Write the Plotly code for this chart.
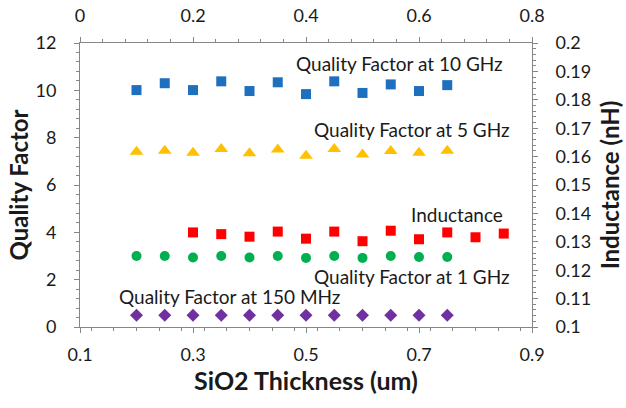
import plotly.graph_objects as go

# SiO2 thickness (um) for the quality-factor series (bottom axis)
thickness = [0.2, 0.25, 0.3, 0.35, 0.4, 0.45, 0.5, 0.55, 0.6, 0.65, 0.7, 0.75]
# Thickness values for the inductance series (top axis)
thickness_top = [0.2, 0.25, 0.3, 0.35, 0.4, 0.45, 0.5, 0.55, 0.6, 0.65, 0.7, 0.75]

q_10ghz = [10.01, 10.3, 10.01, 10.38, 9.97, 10.34, 9.84, 10.38, 9.89, 10.25, 9.97, 10.22]
q_5ghz = [7.41, 7.45, 7.36, 7.52, 7.34, 7.5, 7.24, 7.52, 7.29, 7.44, 7.36, 7.45]
q_1ghz = [3.0, 3.0, 2.94, 3.0, 2.94, 3.0, 2.92, 3.0, 2.92, 3.0, 2.96, 2.96]
q_150mhz = [0.5, 0.5, 0.5, 0.5, 0.5, 0.5, 0.5, 0.5, 0.5, 0.5, 0.5, 0.5]
inductance = [0.1333, 0.1327, 0.1318, 0.1336, 0.1311, 0.1336, 0.1302, 0.1339,
              0.1309, 0.1333, 0.1316, 0.1329]

FONT = "Lato"
TXT = "#1a1a1a"
AX = "#868686"

fig = go.Figure()

def qf(y, color, symbol, size):
    fig.add_trace(go.Scatter(x=thickness, y=y, mode="markers",
                             marker=dict(color=color, symbol=symbol, size=size,
                                         line=dict(width=0)),
                             showlegend=False))

qf(q_10ghz, "#1F6FBF", "square", 10)
qf(q_5ghz, "#FFC000", "triangle-up", 12)
qf(q_1ghz, "#00B050", "circle", 10)
qf(q_150mhz, "#7030A0", "diamond", 10)

fig.add_trace(go.Scatter(x=thickness_top, y=inductance, mode="markers",
                         xaxis="x2", yaxis="y2",
                         marker=dict(color="#FF0000", symbol="square", size=10,
                                     line=dict(width=0)),
                         showlegend=False))

axis_common = dict(showline=True, linecolor=AX, linewidth=1, showgrid=False,
                   zeroline=False, ticks="outside", tickcolor=AX, ticklen=5,
                   automargin=False,
                   tickfont=dict(family=FONT, size=18, color=TXT))

fig.update_layout(
    width=626, height=408,
    margin=dict(l=80, r=94, t=43, b=81),
    paper_bgcolor="white", plot_bgcolor="white",
    font=dict(family=FONT, color=TXT),
    xaxis=dict(range=[0.1, 0.9], tick0=0.1, dtick=0.2, tickformat=".1f",
               ticklabelstandoff=6,
               minor=dict(dtick=0.04, ticks="outside", ticklen=3, tickcolor=AX),
               title=dict(text="<b>SiO2 Thickness (um)</b>",
                          font=dict(family=FONT, size=25, color=TXT), standoff=6),
               **axis_common),
    xaxis2=dict(range=[0, 0.8], tick0=0, dtick=0.2, overlaying="x", side="top",
                anchor="y", ticklabelstandoff=8,
                minor=dict(dtick=0.04, ticks="outside", ticklen=3, tickcolor=AX),
                **axis_common),
    yaxis=dict(range=[0, 12], dtick=2, ticklabelstandoff=14,
               minor=dict(dtick=0.4, ticks="outside", ticklen=3, tickcolor=AX),
               title=dict(text="<b>Quality Factor</b>",
                          font=dict(family=FONT, size=24, color=TXT), standoff=0),
               **axis_common),
    yaxis2=dict(range=[0.1, 0.2], dtick=0.01, overlaying="y", side="right",
                anchor="x", ticklabelstandoff=14,
                minor=dict(dtick=0.002, ticks="outside", ticklen=3, tickcolor=AX),
                title=dict(text="<b>Inductance (nH)</b>",
                           font=dict(family=FONT, size=24, color=TXT), standoff=12),
                **axis_common),
)

labels = [
    ("Quality Factor at 10 GHz", 0.666, 11.15),
    ("Quality Factor at 5 GHz", 0.687, 8.35),
    ("Inductance", 0.767, 4.75),
    ("Quality Factor at 1 GHz", 0.687, 2.15),
    ("Quality Factor at 150 MHz", 0.364, 1.27),
]
for text, x, y in labels:
    fig.add_annotation(x=x, y=y, xref="x", yref="y", text=text, showarrow=False,
                       font=dict(family=FONT, size=19, color=TXT),
                       xanchor="center", yanchor="middle")

fig.write_html("out.html")
